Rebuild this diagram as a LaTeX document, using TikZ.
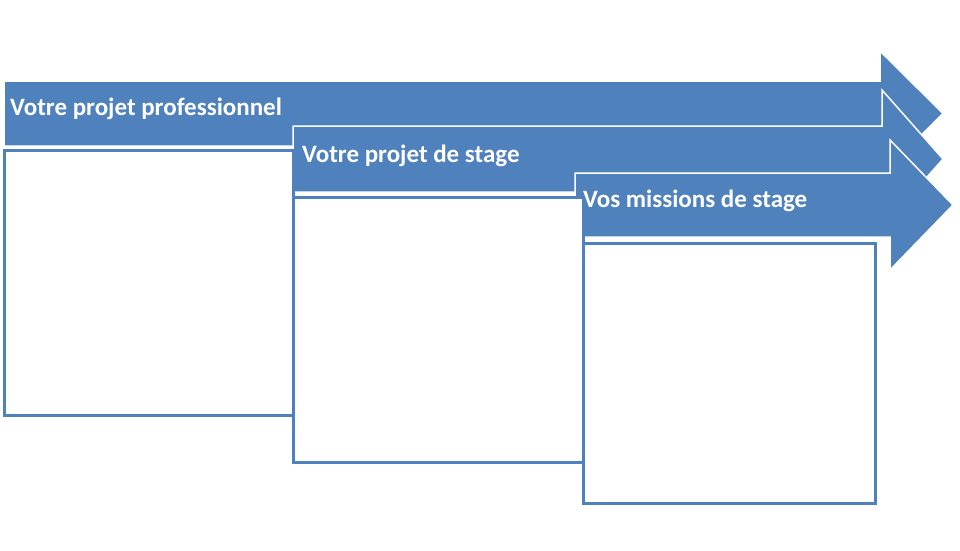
\documentclass[tikz,border=0pt]{standalone}
\usepackage{fontspec}
\setmainfont{Carlito}
\usepackage{xcolor}
\usetikzlibrary{positioning}
\definecolor{stageblue}{HTML}{4F81BD}
\tikzset{
    banner/.style={fill=stageblue, draw=white, line width=1.5pt, line join=miter},
    bannertext/.style={text=white, font=\bfseries\fontsize{25}{28}\selectfont, anchor=base west, inner sep=0pt},
    framebox/.style={draw=stageblue, line width=3pt, fill=white}
}

\begin{document}
\begin{tikzpicture}[x=1pt, y=-1pt]
    \useasboundingbox (0,0) rectangle (960,550);

    % arrows
    \draw[banner] (4,81) -- (880,81) -- (880,51) -- (943,113.5) -- (880,176) -- (880,146) -- (4,146) -- cycle;
    \draw[banner] (293,126) -- (882,126) -- (882,90) -- (943,159) -- (882,228) -- (882,192) -- (293,192) -- cycle;
    \draw[banner] (575,173) -- (890,173) -- (890,140) -- (953,205) -- (890,270) -- (890,237) -- (575,237) -- cycle;

    \node[bannertext] (pro) at (10,115) {Votre projet professionnel};
    \node[bannertext] (projet) at (302,162) {Votre projet de stage};
    \node[bannertext] (missions) at (583,207) {Vos missions de stage};

    % boxes
    \draw[framebox] (4,150) rectangle (293,415);
    \draw[framebox] (293,197) rectangle (583,462);
    \draw[framebox] (583,243) rectangle (875,503);
\end{tikzpicture}
\end{document}
